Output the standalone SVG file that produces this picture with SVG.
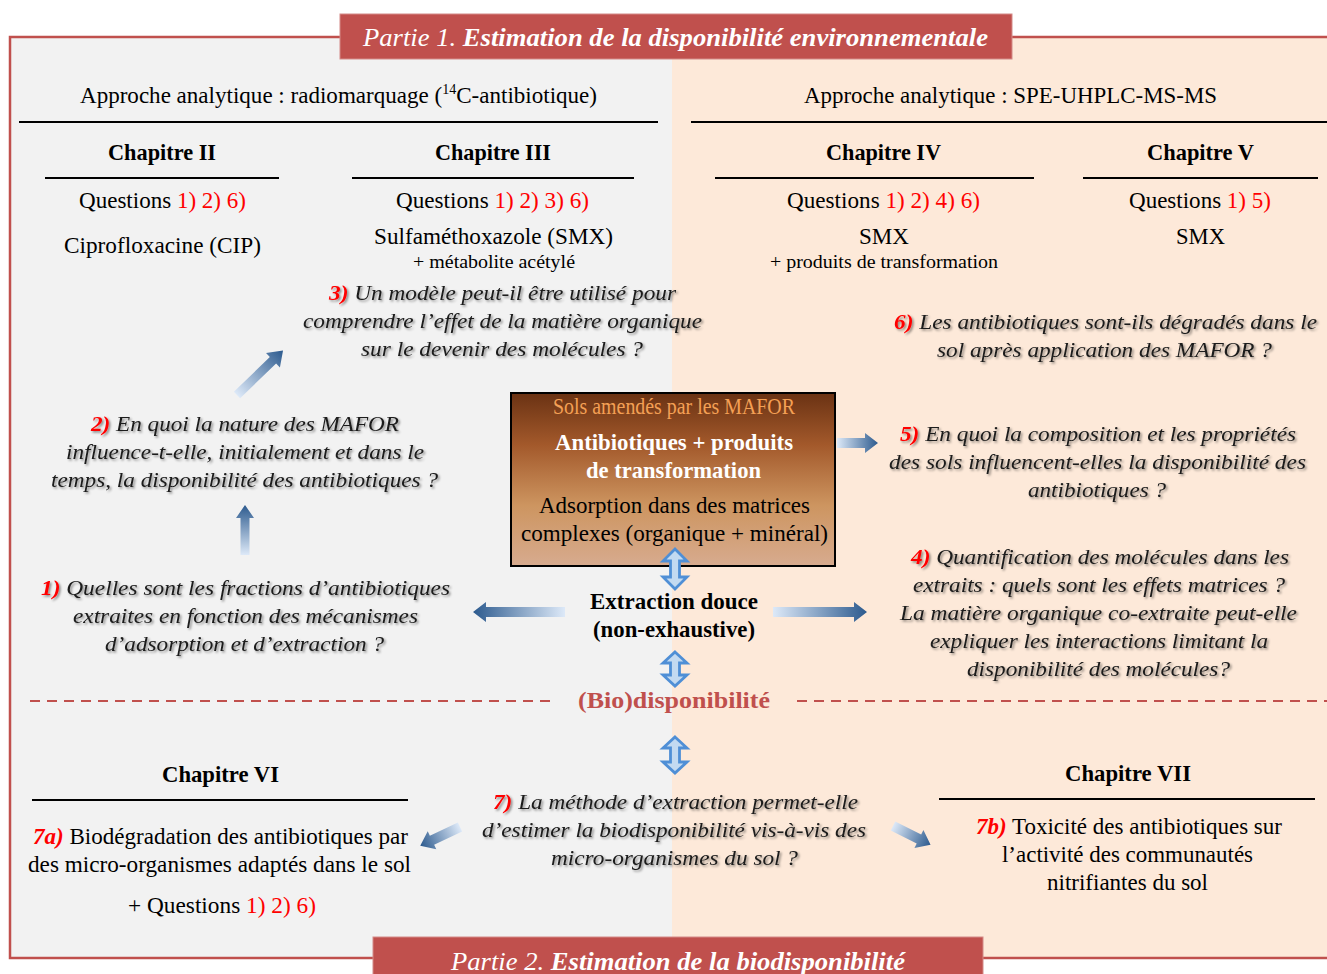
<svg xmlns="http://www.w3.org/2000/svg" width="1327" height="974" viewBox="0 0 1327 974" font-family="Liberation Serif, Times New Roman, serif">
<defs>
<style>
text{font-family:'Liberation Serif','Times New Roman',serif;fill:#000;font-size:23px}
.b{font-weight:bold}
.c{text-anchor:middle}
.s{font-size:19px}
.r{fill:#ff0000}
.q{font-style:italic;fill:#1a1a1a;filter:url(#sh);font-size:22px}
.n{font-weight:bold;fill:#ff0000}
.ban{font-style:italic;fill:#fff;font-size:26px}
.rule{stroke:#000;stroke-width:1.8}
.dash{stroke:#c0504d;stroke-width:2;stroke-dasharray:10 7;fill:none}
.arr{fill:url(#ga)}
.dbl{fill:#c3daf1;stroke:#4f8fd6;stroke-width:2.8;stroke-linejoin:miter}
</style>
<filter id="sh" x="-5%" y="-20%" width="110%" height="150%">
<feDropShadow dx="1.6" dy="1.6" stdDeviation="1" flood-color="#000" flood-opacity="0.45"/>
</filter>
<linearGradient id="ga" x1="0" y1="0" x2="1" y2="0">
<stop offset="0" stop-color="#dde9f8"/>
<stop offset="1" stop-color="#2c5a8e"/>
</linearGradient>
<linearGradient id="gb" x1="0" y1="0" x2="0" y2="1">
<stop offset="0" stop-color="#6a3213"/>
<stop offset="0.3" stop-color="#a3592b"/>
<stop offset="0.65" stop-color="#cd9560"/>
<stop offset="1" stop-color="#d7ab8f"/>
</linearGradient>
</defs>

<g id="background">
<rect x="11" y="38" width="661" height="920" fill="#f2f2f2"/>
<rect x="672" y="38" width="660" height="920" fill="#fde9d9"/>
<rect x="10" y="37" width="1330" height="921" fill="none" stroke="#c0504d" stroke-width="2.5"/>
</g>

<g id="banner1">
<rect x="340" y="14" width="672" height="45" fill="#c0504d" stroke="#d48a88" stroke-width="1"/>
<text class="ban" x="675.5" y="46" text-anchor="middle" textLength="625" lengthAdjust="spacingAndGlyphs">Partie 1. <tspan font-weight="bold">Estimation de la disponibilité environnementale</tspan></text>
</g>

<g id="banner2">
<rect x="373" y="937" width="610" height="45" fill="#c0504d" stroke="#d48a88" stroke-width="1"/>
<text class="ban" x="678" y="970" text-anchor="middle" textLength="454" lengthAdjust="spacingAndGlyphs">Partie 2. <tspan font-weight="bold">Estimation de la biodisponibilité</tspan></text>
</g>

<g id="approche-radio">
<text class="c" x="338.5" y="103" textLength="517" lengthAdjust="spacingAndGlyphs">Approche analytique : radiomarquage (<tspan font-size="14" dy="-9">14</tspan><tspan dy="9">C-antibiotique)</tspan></text>
<line class="rule" x1="19" y1="122" x2="658" y2="122"/>
</g>

<g id="approche-spe">
<text class="c" x="1010.5" y="103" textLength="413" lengthAdjust="spacingAndGlyphs">Approche analytique : SPE-UHPLC-MS-MS</text>
<line class="rule" x1="691" y1="122" x2="1327" y2="122"/>
</g>

<g id="chapitre2">
<text class="c b" x="162" y="160" textLength="108" lengthAdjust="spacingAndGlyphs">Chapitre II</text>
<line class="rule" x1="45" y1="178" x2="279" y2="178"/>
<text class="c" x="162.5" y="208" textLength="167" lengthAdjust="spacingAndGlyphs">Questions <tspan class="r">1) 2) 6)</tspan></text>
<text class="c" x="162.5" y="253" textLength="197" lengthAdjust="spacingAndGlyphs">Ciprofloxacine (CIP)</text>
</g>

<g id="chapitre3">
<text class="c b" x="493" y="160" textLength="116" lengthAdjust="spacingAndGlyphs">Chapitre III</text>
<line class="rule" x1="352" y1="178" x2="634" y2="178"/>
<text class="c" x="492.5" y="208" textLength="193" lengthAdjust="spacingAndGlyphs">Questions <tspan class="r">1) 2) 3) 6)</tspan></text>
<text class="c" x="493.5" y="244" textLength="239" lengthAdjust="spacingAndGlyphs">Sulfaméthoxazole (SMX)</text>
<text class="c s" x="494" y="268" textLength="162" lengthAdjust="spacingAndGlyphs">+ métabolite acétylé</text>
</g>

<g id="chapitre4">
<text class="c b" x="883.5" y="160" textLength="115" lengthAdjust="spacingAndGlyphs">Chapitre IV</text>
<line class="rule" x1="715" y1="178" x2="1034" y2="178"/>
<text class="c" x="883.5" y="208" textLength="193" lengthAdjust="spacingAndGlyphs">Questions <tspan class="r">1) 2) 4) 6)</tspan></text>
<text class="c" x="884" y="244" textLength="50" lengthAdjust="spacingAndGlyphs">SMX</text>
<text class="c s" x="884" y="268" textLength="228" lengthAdjust="spacingAndGlyphs">+ produits de transformation</text>
</g>

<g id="chapitre5">
<text class="c b" x="1200.5" y="160" textLength="107" lengthAdjust="spacingAndGlyphs">Chapitre V</text>
<line class="rule" x1="1083" y1="178" x2="1318" y2="178"/>
<text class="c" x="1200" y="208" textLength="142" lengthAdjust="spacingAndGlyphs">Questions <tspan class="r">1) 5)</tspan></text>
<text class="c" x="1200.5" y="244" textLength="49" lengthAdjust="spacingAndGlyphs">SMX</text>
</g>

<g id="question3">
<text class="c q" x="502.5" y="300" textLength="347" lengthAdjust="spacingAndGlyphs"><tspan class="n">3)</tspan> Un modèle peut-il être utilisé pour</text>
<text class="c q" x="502.5" y="328" textLength="399" lengthAdjust="spacingAndGlyphs">comprendre l’effet de la matière organique</text>
<text class="c q" x="502" y="356" textLength="282" lengthAdjust="spacingAndGlyphs">sur le devenir des molécules ?</text>
</g>

<g id="question6">
<text class="c q" x="1105.5" y="329" textLength="423" lengthAdjust="spacingAndGlyphs"><tspan class="n">6)</tspan> Les antibiotiques sont-ils dégradés dans le</text>
<text class="c q" x="1104.5" y="357" textLength="335" lengthAdjust="spacingAndGlyphs">sol après application des MAFOR ?</text>
</g>

<g id="question2">
<text class="c q" x="245" y="431" textLength="308" lengthAdjust="spacingAndGlyphs"><tspan class="n">2)</tspan> En quoi la nature des MAFOR</text>
<text class="c q" x="245" y="459" textLength="358" lengthAdjust="spacingAndGlyphs">influence-t-elle, initialement et dans le</text>
<text class="c q" x="244.5" y="487" textLength="387" lengthAdjust="spacingAndGlyphs">temps, la disponibilité des antibiotiques ?</text>
</g>

<g id="question5">
<text class="c q" x="1098" y="441" textLength="396" lengthAdjust="spacingAndGlyphs"><tspan class="n">5)</tspan> En quoi la composition et les propriétés</text>
<text class="c q" x="1097.5" y="469" textLength="417" lengthAdjust="spacingAndGlyphs">des sols influencent-elles la disponibilité des</text>
<text class="c q" x="1097" y="497" textLength="138" lengthAdjust="spacingAndGlyphs">antibiotiques ?</text>
</g>

<g id="question1">
<text class="c q" x="245.5" y="595" textLength="409" lengthAdjust="spacingAndGlyphs"><tspan class="n">1)</tspan> Quelles sont les fractions d’antibiotiques</text>
<text class="c q" x="245.5" y="623" textLength="345" lengthAdjust="spacingAndGlyphs">extraites en fonction des mécanismes</text>
<text class="c q" x="244.5" y="651" textLength="279" lengthAdjust="spacingAndGlyphs">d’adsorption et d’extraction ?</text>
</g>

<g id="question4">
<text class="c q" x="1100" y="564" textLength="378" lengthAdjust="spacingAndGlyphs"><tspan class="n">4)</tspan> Quantification des molécules dans les</text>
<text class="c q" x="1099" y="592" textLength="372" lengthAdjust="spacingAndGlyphs">extraits : quels sont les effets matrices ?</text>
<text class="c q" x="1098.5" y="620" textLength="397" lengthAdjust="spacingAndGlyphs">La matière organique co-extraite peut-elle</text>
<text class="c q" x="1099" y="648" textLength="338" lengthAdjust="spacingAndGlyphs">expliquer les interactions limitant la</text>
<text class="c q" x="1098.5" y="676" textLength="263" lengthAdjust="spacingAndGlyphs">disponibilité des molécules?</text>
</g>

<g id="sols">
<rect x="511" y="393" width="324" height="173" fill="url(#gb)" stroke="#000" stroke-width="2"/>
<text class="c" x="674" y="414" font-size="19" style="fill:#f4a055" textLength="242" lengthAdjust="spacingAndGlyphs">Sols amendés par les MAFOR</text>
<text class="c b" x="674" y="450" style="fill:#fff" textLength="238" lengthAdjust="spacingAndGlyphs">Antibiotiques + produits</text>
<text class="c b" x="673.5" y="478" style="fill:#fff" textLength="175" lengthAdjust="spacingAndGlyphs">de transformation</text>
<text class="c" x="674.5" y="513" textLength="271" lengthAdjust="spacingAndGlyphs">Adsorption dans des matrices</text>
<text class="c" x="674.5" y="541" textLength="307" lengthAdjust="spacingAndGlyphs">complexes (organique + minéral)</text>
</g>

<g id="extraction">
<text class="c b" x="674" y="609" textLength="168" lengthAdjust="spacingAndGlyphs">Extraction douce</text>
<text class="c b" x="674" y="637" textLength="162" lengthAdjust="spacingAndGlyphs">(non-exhaustive)</text>
</g>

<g id="biodisponibilite">
<text class="c b" x="674" y="708" font-size="24" style="fill:#c0504d" textLength="192" lengthAdjust="spacingAndGlyphs">(Bio)disponibilité</text>
<line class="dash" x1="30" y1="701" x2="557" y2="701"/>
<line class="dash" x1="797" y1="701" x2="1327" y2="701"/>
</g>

<g id="question7">
<text class="c q" x="675.5" y="809" textLength="365" lengthAdjust="spacingAndGlyphs"><tspan class="n">7)</tspan> La méthode d’extraction permet-elle</text>
<text class="c q" x="674" y="837" textLength="384" lengthAdjust="spacingAndGlyphs">d’estimer la biodisponibilité vis-à-vis des</text>
<text class="c q" x="674.5" y="865" textLength="247" lengthAdjust="spacingAndGlyphs">micro-organismes du sol ?</text>
</g>

<g id="chapitre6">
<text class="c b" x="220.5" y="782" textLength="117" lengthAdjust="spacingAndGlyphs">Chapitre VI</text>
<line class="rule" x1="32" y1="800" x2="408" y2="800"/>
<text x="33" y="844" textLength="375" lengthAdjust="spacingAndGlyphs"><tspan class="n" font-style="italic">7a)</tspan> Biodégradation des antibiotiques par</text>
<text x="28" y="872" textLength="383" lengthAdjust="spacingAndGlyphs">des micro-organismes adaptés dans le sol</text>
<text class="c" x="222" y="913" textLength="188" lengthAdjust="spacingAndGlyphs">+ Questions <tspan class="r">1) 2) 6)</tspan></text>
</g>

<g id="chapitre7">
<text class="c b" x="1128" y="781" textLength="126" lengthAdjust="spacingAndGlyphs">Chapitre VII</text>
<line class="rule" x1="939" y1="799" x2="1315" y2="799"/>
<text class="c" x="1129" y="834" textLength="306" lengthAdjust="spacingAndGlyphs"><tspan class="n" font-style="italic">7b)</tspan> Toxicité des antibiotiques sur</text>
<text class="c" x="1127.5" y="862" textLength="251" lengthAdjust="spacingAndGlyphs">l’activité des communautés</text>
<text class="c" x="1127.5" y="890" textLength="161" lengthAdjust="spacingAndGlyphs">nitrifiantes du sol</text>
</g>

<g id="connectors">
<path class="arr" transform="translate(237,395) rotate(-44)" d="M0,-4.5 L50,-4.5 L50,-10 L64,0 L50,10 L50,4.5 L0,4.5 Z"/>
<path class="arr" transform="translate(245,555) rotate(-90)" d="M0,-4.5 L37,-4.5 L37,-9 L50,0 L37,9 L37,4.5 L0,4.5 Z"/>
<path class="arr" transform="translate(565,612) rotate(180)" d="M0,-5 L79,-5 L79,-10 L92,0 L79,10 L79,5 L0,5 Z"/>
<path class="arr" transform="translate(773,612)" d="M0,-5 L81,-5 L81,-10 L94,0 L81,10 L81,5 L0,5 Z"/>
<path class="arr" transform="translate(837,443)" d="M0,-5 L28,-5 L28,-10 L41,0 L28,10 L28,5 L0,5 Z"/>
<path class="arr" transform="translate(460,827) rotate(154.6)" d="M0,-5 L31,-5 L31,-10 L44,0 L31,10 L31,5 L0,5 Z"/>
<path class="arr" transform="translate(893,826) rotate(26.6)" d="M0,-5 L29,-5 L29,-10 L42,0 L29,10 L29,5 L0,5 Z"/>
<path class="dbl" transform="translate(675,569)" d="M0,-20 L12,-8 L4.5,-8 L4.5,8 L12,8 L0,20 L-12,8 L-4.5,8 L-4.5,-8 L-12,-8 Z"/>
<path class="dbl" transform="translate(675,669)" d="M0,-17 L12,-6 L4.5,-6 L4.5,6 L12,6 L0,17 L-12,6 L-4.5,6 L-4.5,-6 L-12,-6 Z"/>
<path class="dbl" transform="translate(675,755)" d="M0,-18 L12,-7 L4.5,-7 L4.5,7 L12,7 L0,18 L-12,7 L-4.5,7 L-4.5,-7 L-12,-7 Z"/>
</g>
</svg>
